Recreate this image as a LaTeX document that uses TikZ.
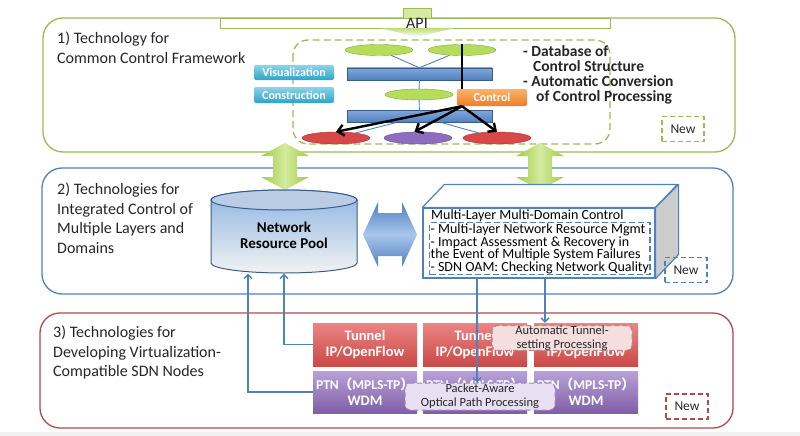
\documentclass[tikz,border=0pt]{standalone}
\usepackage{fontspec}
\setmainfont{Carlito}
\newfontfamily\cjk{Noto Sans CJK JP}
\usetikzlibrary{shapes.geometric,arrows.meta}
\definecolor{grn}{HTML}{9BBB59}
\definecolor{grnA}{HTML}{A2CB3E}
\definecolor{grnB}{HTML}{D5EAA0}
\definecolor{limeC}{HTML}{B5DC5A}
\definecolor{blu}{HTML}{4F81BD}
\definecolor{bluDark}{HTML}{385D8A}
\definecolor{bluLight}{HTML}{A8C5EC}
\definecolor{barTop}{HTML}{7FA6DB}
\definecolor{redC}{HTML}{D84848}
\definecolor{purC}{HTML}{8E6CBF}
\definecolor{redP}{HTML}{B9474A}
\definecolor{cyanTop}{HTML}{8DD3E8}
\definecolor{cyanBot}{HTML}{2CA5C8}
\definecolor{orgTop}{HTML}{FBB36B}
\definecolor{orgBot}{HTML}{EE7D23}
\definecolor{tunTop}{HTML}{EC8483}
\definecolor{tunBot}{HTML}{C94A47}
\definecolor{ptnTop}{HTML}{B8A1D8}
\definecolor{ptnBot}{HTML}{7F5FA8}
\definecolor{cylTop}{HTML}{8EB4E3}
\definecolor{cylBot}{HTML}{F2F2F2}
\definecolor{cylCap}{HTML}{B9CDE5}
\definecolor{autoFill}{HTML}{F5DEDE}
\definecolor{autoDraw}{HTML}{B08888}
\definecolor{pktFill}{HTML}{E8E0F2}
\definecolor{pktDraw}{HTML}{9A88B4}
\definecolor{ink}{HTML}{262626}

\begin{document}
\begin{tikzpicture}[x=1pt,y=-1pt,
  panel/.style={line width=1.3pt, rounded corners=20pt},
  title/.style={anchor=north west, inner sep=0pt, align=left, text=ink, font=\fontsize{16}{19.5}\selectfont},
  oval/.style={ellipse, minimum width=68pt, minimum height=11pt, inner sep=0pt, fill=#1, draw=#1!75!black},
  bar/.style={minimum width=145pt, minimum height=12pt, inner sep=0pt, top color=barTop, bottom color=blu, draw=bluDark},
  tool/.style={rounded corners=2pt, minimum width=80pt, minimum height=15pt, inner sep=0pt, top color=cyanTop, bottom color=cyanBot, text=white, font=\bfseries\fontsize{12}{12}\selectfont},
  newbox/.style={draw=#1, line width=1.2pt, dash pattern=on 5pt off 3pt, minimum width=42pt, minimum height=25pt, inner sep=0pt, text=ink, font=\fontsize{13.5}{14}\selectfont},
  layer/.style={minimum width=104pt, minimum height=43pt, inner sep=0pt, align=center, text=white, font=\bfseries\fontsize{14.5}{16}\selectfont},
  note/.style={rounded corners=5pt, line width=1pt, dash pattern=on 5pt off 3pt, align=center, inner sep=0pt, text=ink, font=\fontsize{12.5}{14}\selectfont},
  flow/.style={draw=blu, line width=1.4pt, -{Straight Barb[length=4pt,width=8pt]}},
  ctrl/.style={line width=2.4pt, -{Straight Barb[length=6pt,width=11pt]}}
]
\useasboundingbox (0,0) rectangle (800,436);
\fill[gray!12] (0,432) rectangle (800,436);

\draw[panel, grn] (43,18) rectangle (735,152);
\draw[panel, blu] (42,168) rectangle (733,294);
\draw[panel, redP] (40,313) rectangle (733,428);

\node[title] (t1) at (57,32) {1) Technology for\\Common Control Framework};
\node[title] (t2) at (57,183) {2) Technologies for\\Integrated Control of\\Multiple Layers and\\Domains};
\node[title] (t3) at (53,326) {3) Technologies for\\Developing Virtualization-\\Compatible SDN Nodes};

\draw[grn, line width=1.3pt, dash pattern=on 7pt off 4pt, rounded corners=15pt] (293,40) rectangle (610,144);
\node[draw=grn, fill=grnB, minimum width=28pt, minimum height=10pt, inner sep=0pt] (apitab) at (417,13) {};
\node[draw=grn, fill=white, line width=0.8pt, minimum width=390pt, minimum height=10pt, inner sep=0pt] (apibar) at (415,23) {};
\shade[top color=grnA!70, bottom color=white] (380,28) -- (455,28) -- (417,37) -- cycle;
\node[inner sep=0pt, text=ink, font=\fontsize{16}{16}\selectfont] (api) at (417,23) {API};

\node[oval=limeC] (e1) at (379,50) {};
\node[oval=limeC] (e2) at (462,50) {};
\node[bar] (bar1) at (419.5,74) {};
\node[oval=limeC] (e3) at (419,94.5) {};
\node[bar] (bar2) at (419.5,116.5) {};
\node[oval=redC, minimum height=12pt] (r1) at (336,138) {};
\node[oval=purC, minimum height=12pt] (p1) at (418,138) {};
\node[oval=redC, minimum height=12pt] (r2) at (497,138) {};
\draw[blu, line width=0.9pt] (e1) -- (bar1.north) (e2) -- (bar1.north) (bar1) -- (e3) (e3) -- (bar2)
  (bar2) -- (r1) (bar2) -- (p1) (bar2) -- (r2);

\node[tool] (viz) at (294,72.5) {Visualization};
\node[tool, minimum height=16pt] (cons) at (294,95) {Construction};
\node[rounded corners=2pt, minimum width=70pt, minimum height=17pt, inner sep=0pt, top color=orgTop, bottom color=orgBot, text=white, font=\bfseries\fontsize{12}{12}\selectfont] (ctl) at (492,97.5) {Control};

\draw[line width=2.4pt] (e2.north) -- (e2.north |- ctl.north);
\coordinate (hub) at (e2.north |- ctl.south);
\draw[ctrl] (hub) -- (r1.north);
\draw[ctrl] (hub) -- (p1.120);
\draw[ctrl] (hub) -- (r2.north);

\node[anchor=north west, inner sep=0pt, align=left, text=ink, font=\bfseries\fontsize{15.5}{15}\selectfont] (dbtext) at (523,45)
  {- Database of\\\hspace*{10pt}Control Structure\\- Automatic Conversion\\\hspace*{13pt}of Control Processing};
\node[newbox=grn] (new1) at (683,129) {New};

\shade[left color=grnA, right color=grnA, middle color=grnB] (285,143) -- (309,156) -- (297,156) -- (297,177) -- (309,177)
  -- (285,190) -- (261,177) -- (273,177) -- (273,156) -- (261,156) -- cycle;
\shade[left color=grnA, right color=grnA, middle color=grnB] (540,143) -- (564,156) -- (552,156) -- (552,177) -- (564,177)
  -- (540,190) -- (516,177) -- (528,177) -- (528,156) -- (516,156) -- cycle;

\shadedraw[top color=cylTop, bottom color=cylBot, draw=bluDark, line width=1pt] (211,200) -- (211,263)
  arc[start angle=180, end angle=360, x radius=73pt, y radius=10pt] -- (357,200)
  arc[start angle=0, end angle=180, x radius=73pt, y radius=10pt] -- cycle;
\draw[fill=cylCap, draw=bluDark, line width=1pt] (284,200) ellipse[x radius=73pt, y radius=10pt];
\node[align=center, inner sep=0pt, minimum width=146pt, minimum height=76pt, text=black, font=\bfseries\fontsize{15}{16}\selectfont] (pool) at (284,235.5) {Network\\Resource Pool};

\shade[top color=blu, bottom color=blu, middle color=bluLight] (363,234.5) -- (378,202) -- (378,213) -- (402,213) -- (402,202)
  -- (417,234.5) -- (402,267) -- (402,256) -- (378,256) -- (378,267) -- cycle;

\node[draw=blu, fill=white, line width=1.2pt, minimum width=232pt, minimum height=70pt, inner sep=0pt] (mlmd) at (539,243) {};
\draw[blu, line width=1.2pt, fill=white, line join=round] (mlmd.north west) -- ++(22,-23) -- ++(233,0) -- (mlmd.north east) -- cycle;
\draw[blu, line width=1.2pt, fill=gray!40, line join=round] (mlmd.north east) -- ++(23,-23) -- ++(0,70) -- (mlmd.south east) -- cycle;
\node[anchor=base west, inner sep=0pt, text=black, font=\fontsize{14}{13}\selectfont] (mlmdtitle) at (431,219) {Multi-Layer Multi-Domain Control};
\node[anchor=north west, draw=blu, line width=1.2pt, dash pattern=on 6pt off 3pt, align=left, inner sep=1pt, text=black, font=\fontsize{14}{12.7}\selectfont] (mlmdlist) at (429,222)
  {- Multi-layer Network Resource Mgmt\\- Impact Assessment \& Recovery in\\the Event of Multiple System Failures\\- SDN OAM: Checking Network Quality};
\node[newbox=blu] (new2) at (686,270) {New};

\node[layer, top color=tunTop, bottom color=tunBot] (tun1) at (365,344.5) {Tunnel\\IP/OpenFlow};
\node[layer, top color=tunTop, bottom color=tunBot] (tun2) at (475,344.5) {Tunnel\\IP/OpenFlow};
\node[layer, top color=tunTop, bottom color=tunBot] (tun3) at (586,344.5) {Tunnel\\IP/OpenFlow};
\node[layer, top color=ptnTop, bottom color=ptnBot, minimum height=42pt] (ptn1) at (365,392) {{\fontsize{13.5}{16}\selectfont PTN{\cjk （}MPLS-TP{\cjk ）}}\\WDM};
\node[layer, top color=ptnTop, bottom color=ptnBot, minimum height=42pt] (ptn2) at (475,392) {{\fontsize{13.5}{16}\selectfont PTN{\cjk （}MPLS-TP{\cjk ）}}\\WDM};
\node[layer, top color=ptnTop, bottom color=ptnBot, minimum height=42pt] (ptn3) at (586,392) {{\fontsize{13.5}{16}\selectfont PTN{\cjk （}MPLS-TP{\cjk ）}}\\WDM};

\node[note, draw=autoDraw, fill=autoFill, minimum width=140pt, minimum height=24pt] (auto) at (562,338) {Automatic Tunnel-\\setting Processing};
\node[note, draw=pktDraw, fill=pktFill, minimum width=150pt, minimum height=27pt] (pkt) at (480,396.5) {Packet-Aware\\Optical Path Processing};
\node[newbox=redP] (new3) at (687,406.5) {New};

\draw[flow] (tun1.west) -| (pool.south);
\draw[flow] (ptn1.west) -| ([xshift=-36pt]pool.south);
\draw[flow] ([xshift=-62pt]mlmd.south) -- ([xshift=-62pt]mlmd.south |- pkt.north);
\draw[flow] ([xshift=6pt]mlmd.south) -- ([xshift=6pt]mlmd.south |- tun3.north);
\end{tikzpicture}
\end{document}
